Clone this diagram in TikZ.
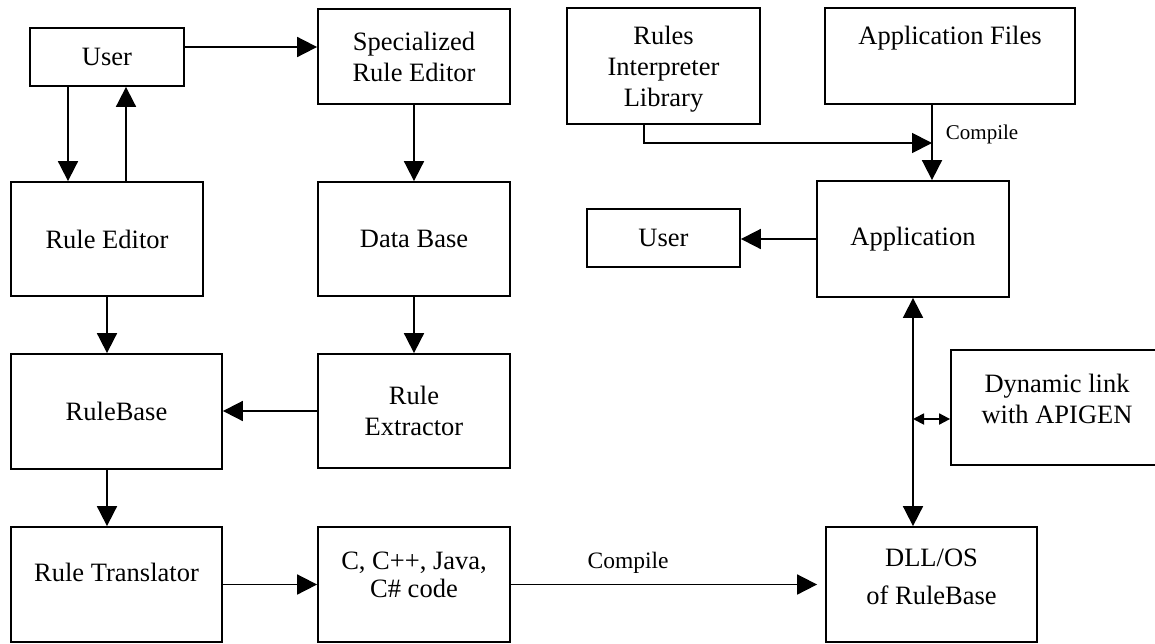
\documentclass[tikz,border=0pt]{standalone}
\usepackage{fontspec}
\setmainfont{Liberation Serif}
\usetikzlibrary{arrows.meta}
\begin{document}
\begin{tikzpicture}[x=1pt,y=-1pt,
  box/.style={draw, line width=1.8pt, inner sep=0pt, align=center,
              font=\fontsize{26.5}{31}\selectfont},
  txt/.style={inner sep=0pt, align=center, font=\fontsize{26.5}{31}\selectfont},
  lbl/.style={inner sep=0pt, font=\fontsize{21}{25}\selectfont},
  lblbig/.style={inner sep=0pt, font=\fontsize{23.5}{28}\selectfont},
  flow/.style={line width=1.8pt, -{Triangle[length=20pt,width=20pt]}},
  twoway/.style={line width=1.8pt,
                 {Triangle[length=20pt,width=20pt]}-{Triangle[length=20pt,width=20pt]}},
  smallway/.style={line width=1.8pt,
                 {Triangle[length=11pt,width=11pt]}-{Triangle[length=11pt,width=11pt]}}]
\useasboundingbox (0,0) rectangle (1155,643);
\clip (0,0) rectangle (1155,643);
\fill[white] (0,0) rectangle (1155,643);

% ---- left part: rule authoring chain ----
\node[box, minimum width=154pt, minimum height=58pt]  (user1) at (107,57)    {User};
\node[box, minimum width=192pt, minimum height=95pt]  (spec)  at (414,56.5)  {Specialized\\Rule Editor};
\node[box, minimum width=192pt, minimum height=114pt] (redit) at (107,239)   {Rule Editor};
\node[box, minimum width=192pt, minimum height=114pt] (db)    at (414,239)   {Data Base};
\node[box, minimum width=211pt, minimum height=115pt] (rb)    at (116.5,411.5) {RuleBase};
\node[box, minimum width=192pt, minimum height=114pt] (rx)    at (414,411)   {Rule\\Extractor};
\node[box, minimum width=211pt, minimum height=115pt] (tr)    at (116.5,584.5) {};
\node[txt] (tr-t) at ([yshift=12.5pt]tr.center) {Rule Translator};
\node[box, minimum width=192pt, minimum height=115pt] (cc)    at (414,584.5) {};
\node[txt, font=\fontsize{26.5}{28}\selectfont] (cc-t) at ([yshift=9.5pt]cc.center) {C, C++, Java,\\C\# code};

% ---- right part: application side ----
\node[box, minimum width=193pt, minimum height=116pt] (ril)   at (663.5,66)  {};
\node[txt] (ril-t) at ([yshift=-3pt]ril.center) {Rules\\Interpreter\\Library};
\node[box, minimum width=250pt, minimum height=96pt]  (af)    at (950,56)    {};
\node[txt] (af-t) at ([yshift=18pt]af.center) {Application Files};
\node[box, minimum width=153pt, minimum height=58pt]  (user2) at (663.5,238) {User};
\node[box, minimum width=192pt, minimum height=116pt] (app)   at (913,239)   {Application};
\node[box, minimum width=212pt, minimum height=115pt] (dyn)   at (1057,407.5) {};
\node[txt] (dyn-t) at ([yshift=9pt]dyn.center) {Dynamic link\\with APIGEN};
\node[box, minimum width=211pt, minimum height=115pt] (dll)   at (931.5,584.5) {};
\node[txt, font=\fontsize{26.5}{38}\selectfont] (dll-t) at ([yshift=7.5pt]dll.center) {DLL/OS\\of RuleBase};

% ---- helper points for off-centre connectors ----
\coordinate (row47)  at (0,47);
\coordinate (col68)  at (68,0);
\coordinate (col126) at (126,0);
\coordinate (col644) at (644,0);
\coordinate (col932) at (932,0);
\coordinate (merge)  at (932,143);
\coordinate (tap)    at (913,419);

% ---- connectors ----
\draw[flow] (user1.east |- row47) -- (spec.west |- row47);
\draw[flow] (user1.south -| col68) -- (redit.north -| col68);
\draw[flow] (redit.north -| col126) -- (user1.south -| col126);
\draw[flow] (spec.south) -- (db.north);
\draw[flow] (redit.south) -- (rb.north -| redit.south);
\draw[flow] (db.south) -- (rx.north);
\draw[flow] (rx.west) -- (rb.east |- rx.west);
\draw[flow] (rb.south -| redit.south) -- (tr.north -| redit.south);
\draw[flow] (tr.east) -- (cc.west |- tr.east);
\draw[flow, shorten >=8pt] (cc.east) --
  node[lblbig, pos=0.373, yshift=22pt] (cmp2) {Compile} (dll.west |- cc.east);

\draw[flow] (ril.south -| col644) |- (merge);
\draw[flow] (af.south -| col932) --
  node[lbl, pos=0.39, right=13pt] (cmp1) {Compile} (app.north -| col932);
\draw[flow] (app.west) -- (user2.east |- app.west);
\draw[twoway] (app.south) -- (dll.north -| app.south);
\draw[smallway] (tap) -- (dyn.west |- tap);
\end{tikzpicture}
\end{document}
